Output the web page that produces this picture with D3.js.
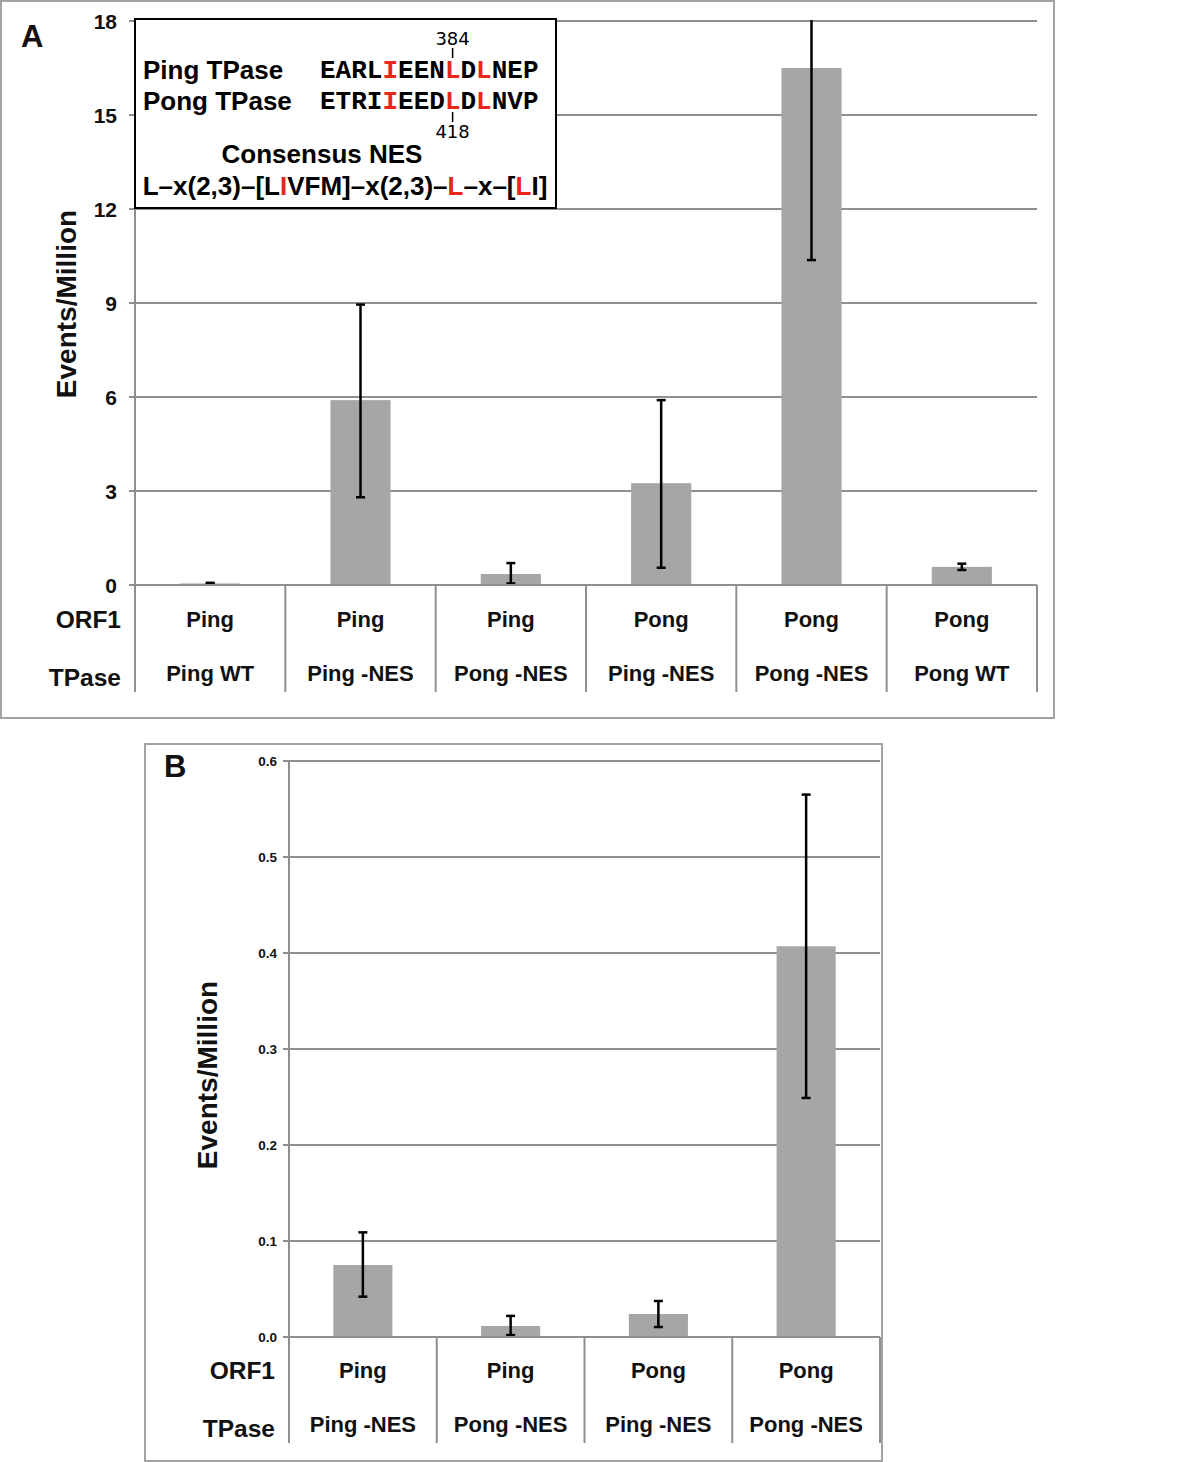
<!DOCTYPE html>
<html><head><meta charset="utf-8">
<script src="https://cdn.jsdelivr.net/npm/d3@7/dist/d3.min.js"></script>
<style>
html,body{margin:0;padding:0;background:#fff;}
svg{font-family:"Liberation Sans",Arial,sans-serif;}
</style></head>
<body>
<svg id="chart" width="1200" height="1462"></svg>
<script>
// ---------- Panel A data ----------
const orf1A = ["Ping", "Ping", "Ping", "Pong", "Pong", "Pong"];
const tpaseA = ["Ping WT", "Ping -NES", "Pong -NES", "Ping -NES", "Pong -NES", "Pong WT"];
const valuesA = [0.05, 5.9, 0.35, 3.25, 16.5, 0.58];
const errLowA = [0.04, 2.8, 0.05, 0.55, 10.37, 0.48];
const errHighA = [0.07, 8.95, 0.7, 5.9, 22.6, 0.68];
const ticksA = [0, 3, 6, 9, 12, 15, 18];

// ---------- Panel B data ----------
const orf1B = ["Ping", "Ping", "Pong", "Pong"];
const tpaseB = ["Ping -NES", "Pong -NES", "Ping -NES", "Pong -NES"];
const valuesB = [0.075, 0.0115, 0.024, 0.407];
const errLowB = [0.042, 0.002, 0.0104, 0.249];
const errHighB = [0.109, 0.022, 0.0375, 0.565];
const ticksB = [0.0, 0.1, 0.2, 0.3, 0.4, 0.5, 0.6];

// ---------- Inset text ----------
const pingSeq = "EARLIEENLDLNEP";
const pongSeq = "ETRIIEEDLDLNVP";
const redPositions = [4, 8, 10];
const consensusParts = [["L–x(2,3)–[L", false], ["I", true], ["VFM]–x(2,3)–", false], ["L", true], ["–x–[", false], ["L", true], ["I]", false]];

const svg = d3.select("#chart");
const GRID = "#8f8f8f", FRAME = "#a3a3a3", BAR = "#a6a6a6", RED = "#e8261b";

function panel(opt) {
  const g = svg.append("g");
  g.append("rect").attr("x", opt.frame[0]).attr("y", opt.frame[1])
    .attr("width", opt.frame[2] - opt.frame[0]).attr("height", opt.frame[3] - opt.frame[1])
    .attr("fill", "none").attr("stroke", FRAME).attr("stroke-width", 2);

  const x = d3.scaleBand().domain(d3.range(opt.values.length)).range([opt.left, opt.right]).paddingInner(0).paddingOuter(0);
  const y = d3.scaleLinear().domain([0, d3.max(opt.ticks)]).range([opt.zeroY, opt.topY]);

  g.append("g").selectAll("line").data(opt.ticks).join("line")
    .attr("x1", opt.left - 6).attr("x2", opt.right)
    .attr("y1", d => y(d)).attr("y2", d => y(d))
    .attr("stroke", GRID).attr("stroke-width", 2);
  g.append("line").attr("x1", opt.left).attr("x2", opt.left).attr("y1", y(d3.max(opt.ticks))).attr("y2", opt.sepBottom)
    .attr("stroke", GRID).attr("stroke-width", 2);

  g.append("g").selectAll("text").data(opt.ticks).join("text")
    .attr("x", opt.tickX).attr("y", d => y(d) + opt.tickSize * 0.36)
    .attr("text-anchor", "end").attr("font-weight", "bold").attr("font-size", opt.tickSize)
    .attr("fill", "#111").text(opt.tickFmt);

  const cid = "clip" + opt.id;
  svg.append("clipPath").attr("id", cid).append("rect")
    .attr("x", opt.left).attr("y", y(d3.max(opt.ticks)) - 1).attr("width", opt.right - opt.left).attr("height", opt.zeroY - y(d3.max(opt.ticks)) + 1);

  const bw = x.step() * opt.barFrac;
  const plot = g.append("g").attr("clip-path", `url(#${cid})`);
  plot.selectAll("rect").data(opt.values).join("rect")
    .attr("x", (d, i) => x(i) + (x.step() - bw) / 2).attr("width", bw)
    .attr("y", d => y(d)).attr("height", d => opt.zeroY - y(d)).attr("fill", BAR);

  g.append("line").attr("x1", opt.left - 6).attr("x2", opt.right).attr("y1", opt.zeroY).attr("y2", opt.zeroY)
    .attr("stroke", GRID).attr("stroke-width", 2);

  const eb = plot.append("g").attr("stroke", "#000").attr("stroke-width", 2.5);
  opt.values.forEach((v, i) => {
    const cx = x(i) + x.step() / 2;
    eb.append("line").attr("x1", cx).attr("x2", cx).attr("y1", y(opt.lo[i])).attr("y2", y(opt.hi[i]));
    [opt.lo[i], opt.hi[i]].forEach(e => {
      eb.append("line").attr("x1", cx - 4.5).attr("x2", cx + 4.5).attr("y1", y(e)).attr("y2", y(e));
    });
  });

  g.append("g").selectAll("line").data(d3.range(opt.values.length + 1)).join("line")
    .attr("x1", i => opt.left + i * x.step()).attr("x2", i => opt.left + i * x.step())
    .attr("y1", opt.zeroY).attr("y2", opt.sepBottom)
    .attr("stroke", GRID).attr("stroke-width", 2);

  const cl = g.append("g").attr("font-weight", "bold").attr("font-size", opt.catSize).attr("text-anchor", "middle").attr("fill", "#111");
  opt.orf1.forEach((t, i) => cl.append("text").attr("x", x(i) + x.step() / 2).attr("y", opt.row1Y).text(t));
  opt.tpase.forEach((t, i) => cl.append("text").attr("x", x(i) + x.step() / 2).attr("y", opt.row2Y).text(t));

  g.append("text").attr("x", opt.headX).attr("y", opt.row1Y + 1).attr("text-anchor", "end")
    .attr("font-weight", "bold").attr("font-size", opt.headSize).attr("fill", "#111").text("ORF1");
  g.append("text").attr("x", opt.headX).attr("y", opt.row2Y + 5).attr("text-anchor", "end")
    .attr("font-weight", "bold").attr("font-size", opt.headSize).attr("fill", "#111").text("TPase");

  g.append("text").attr("transform", `translate(${opt.ylabX},${opt.ylabY}) rotate(-90)`)
    .attr("text-anchor", "middle").attr("font-weight", "bold").attr("font-size", 28).attr("fill", "#111").text("Events/Million");

  g.append("text").attr("x", opt.letter[0]).attr("y", opt.letter[1]).attr("font-weight", "bold")
    .attr("font-size", 31).attr("fill", "#111").text(opt.id);
  return {g, x, y};
}

panel({
  id: "A", frame: [1, 1, 1054, 718], left: 135, right: 1037, zeroY: 585, topY: 21, sepBottom: 692,
  values: valuesA, lo: errLowA, hi: errHighA, ticks: ticksA, tickX: 117, tickSize: 21, tickFmt: d => d3.format("d")(d),
  orf1: orf1A, tpase: tpaseA, catSize: 22, row1Y: 627, row2Y: 681, headX: 121, headSize: 24.5,
  ylabX: 76, ylabY: 304, letter: [21, 47], barFrac: 0.4
});

panel({
  id: "B", frame: [145, 744, 882, 1461], left: 289, right: 880, zeroY: 1337, topY: 761, sepBottom: 1443,
  values: valuesB, lo: errLowB, hi: errHighB, ticks: ticksB, tickX: 277, tickSize: 13.5, tickFmt: d => d3.format(".1f")(d),
  orf1: orf1B, tpase: tpaseB, catSize: 22, row1Y: 1378, row2Y: 1432, headX: 275, headSize: 24.5,
  ylabX: 217, ylabY: 1075, letter: [164, 777], barFrac: 0.4
});

// ---------- Inset box in panel A ----------
const inset = svg.append("g");
inset.append("rect").attr("x", 135).attr("y", 19).attr("width", 421).attr("height", 189)
  .attr("fill", "#fff").attr("stroke", "#000").attr("stroke-width", 2);

const tf = inset.append("g").attr("font-weight", "bold").attr("font-size", 26).attr("fill", "#000");
tf.append("text").attr("x", 143).attr("y", 79).text("Ping TPase");
tf.append("text").attr("x", 143).attr("y", 110).text("Pong TPase");
tf.append("text").attr("x", 322).attr("y", 163).attr("text-anchor", "middle").text("Consensus NES");

const cons = tf.append("text").attr("x", 345).attr("y", 195).attr("text-anchor", "middle");
consensusParts.forEach(([t, r]) => cons.append("tspan").attr("fill", r ? RED : "#000").text(t));

const seqX = 320, chW = 15.6;
function seq(s, yy) {
  const t = inset.append("text").attr("x", seqX).attr("y", yy)
    .style("font-family", "'Liberation Mono','Courier New',monospace").attr("font-weight", "bold").attr("font-size", 26);
  s.split("").forEach((c, i) => t.append("tspan").attr("fill", redPositions.includes(i) ? RED : "#000").text(c));
}
seq(pingSeq, 78);
seq(pongSeq, 109);
const markX = seqX + chW * 8.5;
inset.append("text").attr("x", markX).attr("y", 45).attr("text-anchor", "middle").attr("font-size", 18).style("font-family", "'DejaVu Sans',sans-serif").attr("fill", "#000").text("384");
inset.append("line").attr("x1", markX).attr("x2", markX).attr("y1", 48).attr("y2", 58).attr("stroke", "#000").attr("stroke-width", 1.5);
inset.append("line").attr("x1", markX).attr("x2", markX).attr("y1", 112).attr("y2", 122).attr("stroke", "#000").attr("stroke-width", 1.5);
inset.append("text").attr("x", markX).attr("y", 138).attr("text-anchor", "middle").attr("font-size", 18).style("font-family", "'DejaVu Sans',sans-serif").attr("fill", "#000").text("418");
</script>
</body></html>
